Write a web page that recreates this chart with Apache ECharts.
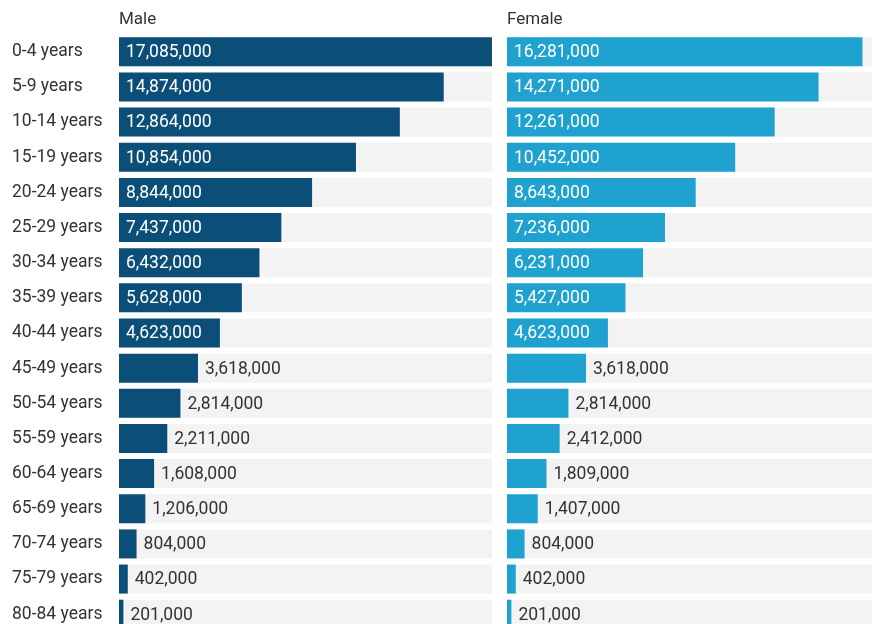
<!DOCTYPE html>
<html>
<head>
<meta charset="utf-8">
<script src="https://cdn.jsdelivr.net/npm/echarts@6/dist/echarts.min.js"></script>
<style>
  html, body { margin: 0; padding: 0; background: #fff; }
  #chart { width: 872px; height: 624px; }
</style>
</head>
<body>
<div id="chart"></div>
<script>
// Population by age group and sex
const ageGroups = [
  '0-4 years', '5-9 years', '10-14 years', '15-19 years', '20-24 years',
  '25-29 years', '30-34 years', '35-39 years', '40-44 years', '45-49 years',
  '50-54 years', '55-59 years', '60-64 years', '65-69 years', '70-74 years',
  '75-79 years', '80-84 years'
];
const maleValues = [
  17085000, 14874000, 12864000, 10854000, 8844000, 7437000, 6432000, 5628000,
  4623000, 3618000, 2814000, 2211000, 1608000, 1206000, 804000, 402000, 201000
];
const femaleValues = [
  16281000, 14271000, 12261000, 10452000, 8643000, 7236000, 6231000, 5427000,
  4623000, 3618000, 2814000, 2412000, 1809000, 1407000, 804000, 402000, 201000
];
const panelTitles = ['Male', 'Female'];

const MALE_COLOR = '#0b4f79';
const FEMALE_COLOR = '#1fa2cf';
const TRACK_COLOR = '#f3f3f3';
const TEXT_COLOR = '#333333';
const FONT = 'Roboto, "Noto Sans", sans-serif';
const FONT_SIZE = 17.5;
const INSIDE_MIN = 4000000; // bars this long carry their value inside
const axisMax = Math.max(...maleValues, ...femaleValues);

const fmt = v => v.toLocaleString('en-US');

function barData(values) {
  return values.map(v => {
    const inside = v >= INSIDE_MIN;
    return {
      value: v,
      label: {
        position: inside ? 'insideLeft' : 'right',
        distance: 7,
        color: inside ? '#ffffff' : TEXT_COLOR
      }
    };
  });
}

const chart = echarts.init(document.getElementById('chart'), null, { renderer: 'canvas' });

// Both panels share one scale; the rows run past the bottom edge.
const grids = [
  { left: 119, width: 373, top: 34.2, height: 597.6, outerBoundsMode: 'none' },
  { left: 507, width: 373, top: 34.2, height: 597.6, outerBoundsMode: 'none' }
];

const option = {
  animation: false,
  textStyle: { fontFamily: FONT },
  title: panelTitles.map((t, i) => ({
    text: t,
    left: grids[i].left,
    top: 11,
    padding: 0,
    textStyle: { fontFamily: FONT, fontSize: 17, fontWeight: 'normal', color: TEXT_COLOR }
  })),
  grid: grids,
  xAxis: grids.map((g, i) => ({
    type: 'value',
    gridIndex: i,
    min: 0,
    max: axisMax,
    show: false
  })),
  yAxis: grids.map((g, i) => ({
    type: 'category',
    gridIndex: i,
    data: ageGroups,
    inverse: true,
    axisLine: { show: false },
    axisTick: { show: false },
    splitLine: { show: false },
    axisLabel: {
      show: i === 0,
      align: 'left',
      margin: 107,
      padding: [2, 0, 0, 0],
      color: TEXT_COLOR,
      fontFamily: FONT,
      fontSize: FONT_SIZE
    }
  })),
  series: [
    { name: 'Male', values: maleValues, color: MALE_COLOR },
    { name: 'Female', values: femaleValues, color: FEMALE_COLOR }
  ].map((s, i) => ({
    name: s.name,
    type: 'bar',
    xAxisIndex: i,
    yAxisIndex: i,
    barWidth: 29,
    data: barData(s.values),
    itemStyle: { color: s.color },
    showBackground: true,
    backgroundStyle: { color: TRACK_COLOR },
    label: {
      show: true,
      offset: [0, 1],
      fontFamily: FONT,
      fontSize: FONT_SIZE,
      formatter: p => fmt(p.value)
    }
  }))
};

chart.setOption(option);
</script>
</body>
</html>
